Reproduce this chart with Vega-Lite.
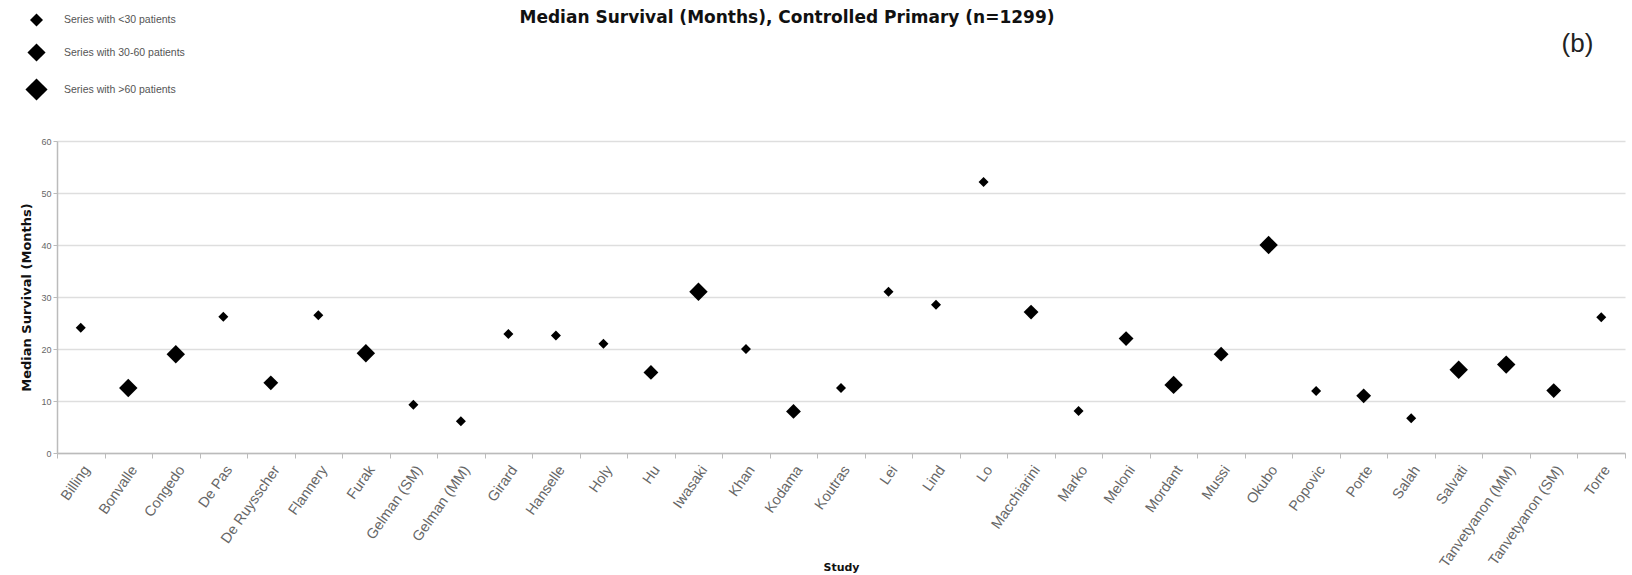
{
  "$schema": "https://vega.github.io/schema/vega-lite/v6.json",
  "width": 1568,
  "height": 312,
  "autosize": "none",
  "padding": {"left": 57, "top": 141, "right": 7, "bottom": 122},
  "background": "white",
  "config": {
    "font": "Liberation Sans",
    "view": {"stroke": null}
  },
  "title": {
    "text": "Median Survival (Months), Controlled Primary (n=1299)",
    "anchor": "middle",
    "frame": "group",
    "font": "DejaVu Sans",
    "fontSize": 17,
    "fontWeight": "bold",
    "color": "#111",
    "dx": -54,
    "offset": -14
  },
  "data": {
    "values": [
      {"study": "Billing", "months": 24.1, "group": "Series with <30 patients"},
      {"study": "Bonvalle", "months": 12.5, "group": "Series with >60 patients"},
      {"study": "Congedo", "months": 19.0, "group": "Series with >60 patients"},
      {"study": "De Pas", "months": 26.2, "group": "Series with <30 patients"},
      {"study": "De Ruysscher", "months": 13.5, "group": "Series with 30-60 patients"},
      {"study": "Flannery", "months": 26.5, "group": "Series with <30 patients"},
      {"study": "Furak", "months": 19.2, "group": "Series with >60 patients"},
      {"study": "Gelman (SM)", "months": 9.3, "group": "Series with <30 patients"},
      {"study": "Gelman (MM)", "months": 6.1, "group": "Series with <30 patients"},
      {"study": "Girard", "months": 22.9, "group": "Series with <30 patients"},
      {"study": "Hanselle", "months": 22.6, "group": "Series with <30 patients"},
      {"study": "Holy", "months": 21.0, "group": "Series with <30 patients"},
      {"study": "Hu", "months": 15.5, "group": "Series with 30-60 patients"},
      {"study": "Iwasaki", "months": 31.0, "group": "Series with >60 patients"},
      {"study": "Khan", "months": 20.0, "group": "Series with <30 patients"},
      {"study": "Kodama", "months": 8.0, "group": "Series with 30-60 patients"},
      {"study": "Koutras", "months": 12.5, "group": "Series with <30 patients"},
      {"study": "Lei", "months": 31.0, "group": "Series with <30 patients"},
      {"study": "Lind", "months": 28.5, "group": "Series with <30 patients"},
      {"study": "Lo", "months": 52.1, "group": "Series with <30 patients"},
      {"study": "Macchiarini", "months": 27.1, "group": "Series with 30-60 patients"},
      {"study": "Marko", "months": 8.1, "group": "Series with <30 patients"},
      {"study": "Meloni", "months": 22.0, "group": "Series with 30-60 patients"},
      {"study": "Mordant", "months": 13.1, "group": "Series with >60 patients"},
      {"study": "Mussi", "months": 19.0, "group": "Series with 30-60 patients"},
      {"study": "Okubo", "months": 40.0, "group": "Series with >60 patients"},
      {"study": "Popovic", "months": 11.9, "group": "Series with <30 patients"},
      {"study": "Porte", "months": 11.0, "group": "Series with 30-60 patients"},
      {"study": "Salah", "months": 6.7, "group": "Series with <30 patients"},
      {"study": "Salvati", "months": 16.0, "group": "Series with >60 patients"},
      {"study": "Tanvetyanon (MM)", "months": 17.0, "group": "Series with >60 patients"},
      {"study": "Tanvetyanon (SM)", "months": 12.0, "group": "Series with 30-60 patients"},
      {"study": "Torre", "months": 26.1, "group": "Series with <30 patients"}
    ]
  },
  "encoding": {
    "x": {
      "field": "study",
      "type": "nominal",
      "sort": null,
      "scale": {"paddingInner": 0, "paddingOuter": 0},
      "axis": {
        "title": "Study",
        "titleFont": "DejaVu Sans",
        "titleFontSize": 11,
        "titleFontWeight": "bold",
        "titleColor": "#111",
        "titleY": 114,
        "titleBaseline": "middle",
        "labelAngle": -55,
        "labelAlign": "right",
        "labelBaseline": "top",
        "labelFontSize": 14.5,
        "labelColor": "#666",
        "labelPadding": 5,
        "tickBand": "extent",
        "tickSize": 5,
        "tickColor": "#bbb",
        "domainColor": "#bbb",
        "domainWidth": 1.5,
        "labelOverlap": false
      }
    }
  },
  "layer": [
    {
      "mark": {"type": "point", "shape": "diamond", "filled": true, "color": "#000", "opacity": 1},
      "encoding": {
        "y": {
          "field": "months",
          "type": "quantitative",
          "scale": {"domain": [0, 60], "nice": false},
          "axis": {
            "title": "Median Survival (Months)",
            "titleFont": "DejaVu Sans",
            "titleFontSize": 13,
            "titleFontWeight": "bold",
            "titleColor": "#111",
            "titlePadding": 7,
            "values": [0, 10, 20, 30, 40, 50, 60],
            "labelFontSize": 9,
            "labelColor": "#666",
            "tickSize": 4,
            "tickColor": "#bbb",
            "domainColor": "#bbb",
            "domainWidth": 1.5,
            "grid": true,
            "gridColor": "#dedede",
            "gridWidth": 1.5
          }
        },
        "size": {
          "field": "group",
          "type": "ordinal",
          "scale": {
            "domain": ["Series with <30 patients", "Series with 30-60 patients", "Series with >60 patients"],
            "range": [100, 340, 600]
          },
          "legend": null
        }
      }
    },
    {
      "mark": {"type": "point", "shape": "diamond", "filled": true, "color": "#000", "opacity": 0},
      "encoding": {
        "y": {
          "field": "months",
          "type": "quantitative",
          "scale": {"domain": [0, 60], "nice": false},
          "axis": {
            "orient": "right",
            "title": "(b)",
            "titleAngle": 0,
            "titleX": -48,
            "titleY": -98,
            "titleAlign": "center",
            "titleBaseline": "middle",
            "titleFontSize": 26,
            "titleFontWeight": "normal",
            "titleColor": "#222",
            "labels": false,
            "ticks": false,
            "domain": false,
            "grid": false
          }
        },
        "size": {
          "field": "group",
          "type": "ordinal",
          "scale": {
            "domain": ["Series with <30 patients", "Series with 30-60 patients", "Series with >60 patients"],
            "range": [170, 490, 900]
          },
          "legend": {
            "orient": "none",
            "legendX": -32,
            "legendY": -128,
            "title": null,
            "padding": 0,
            "labelFontSize": 10.5,
            "labelColor": "#555",
            "labelOffset": 16,
            "rowPadding": 16,
            "symbolFillColor": "#000",
            "symbolStrokeWidth": 0,
            "symbolOpacity": 1
          }
        }
      }
    }
  ],
  "resolve": {
    "scale": {"size": "independent", "y": "independent"},
    "axis": {"y": "independent"},
    "legend": {"size": "independent"}
  }
}
